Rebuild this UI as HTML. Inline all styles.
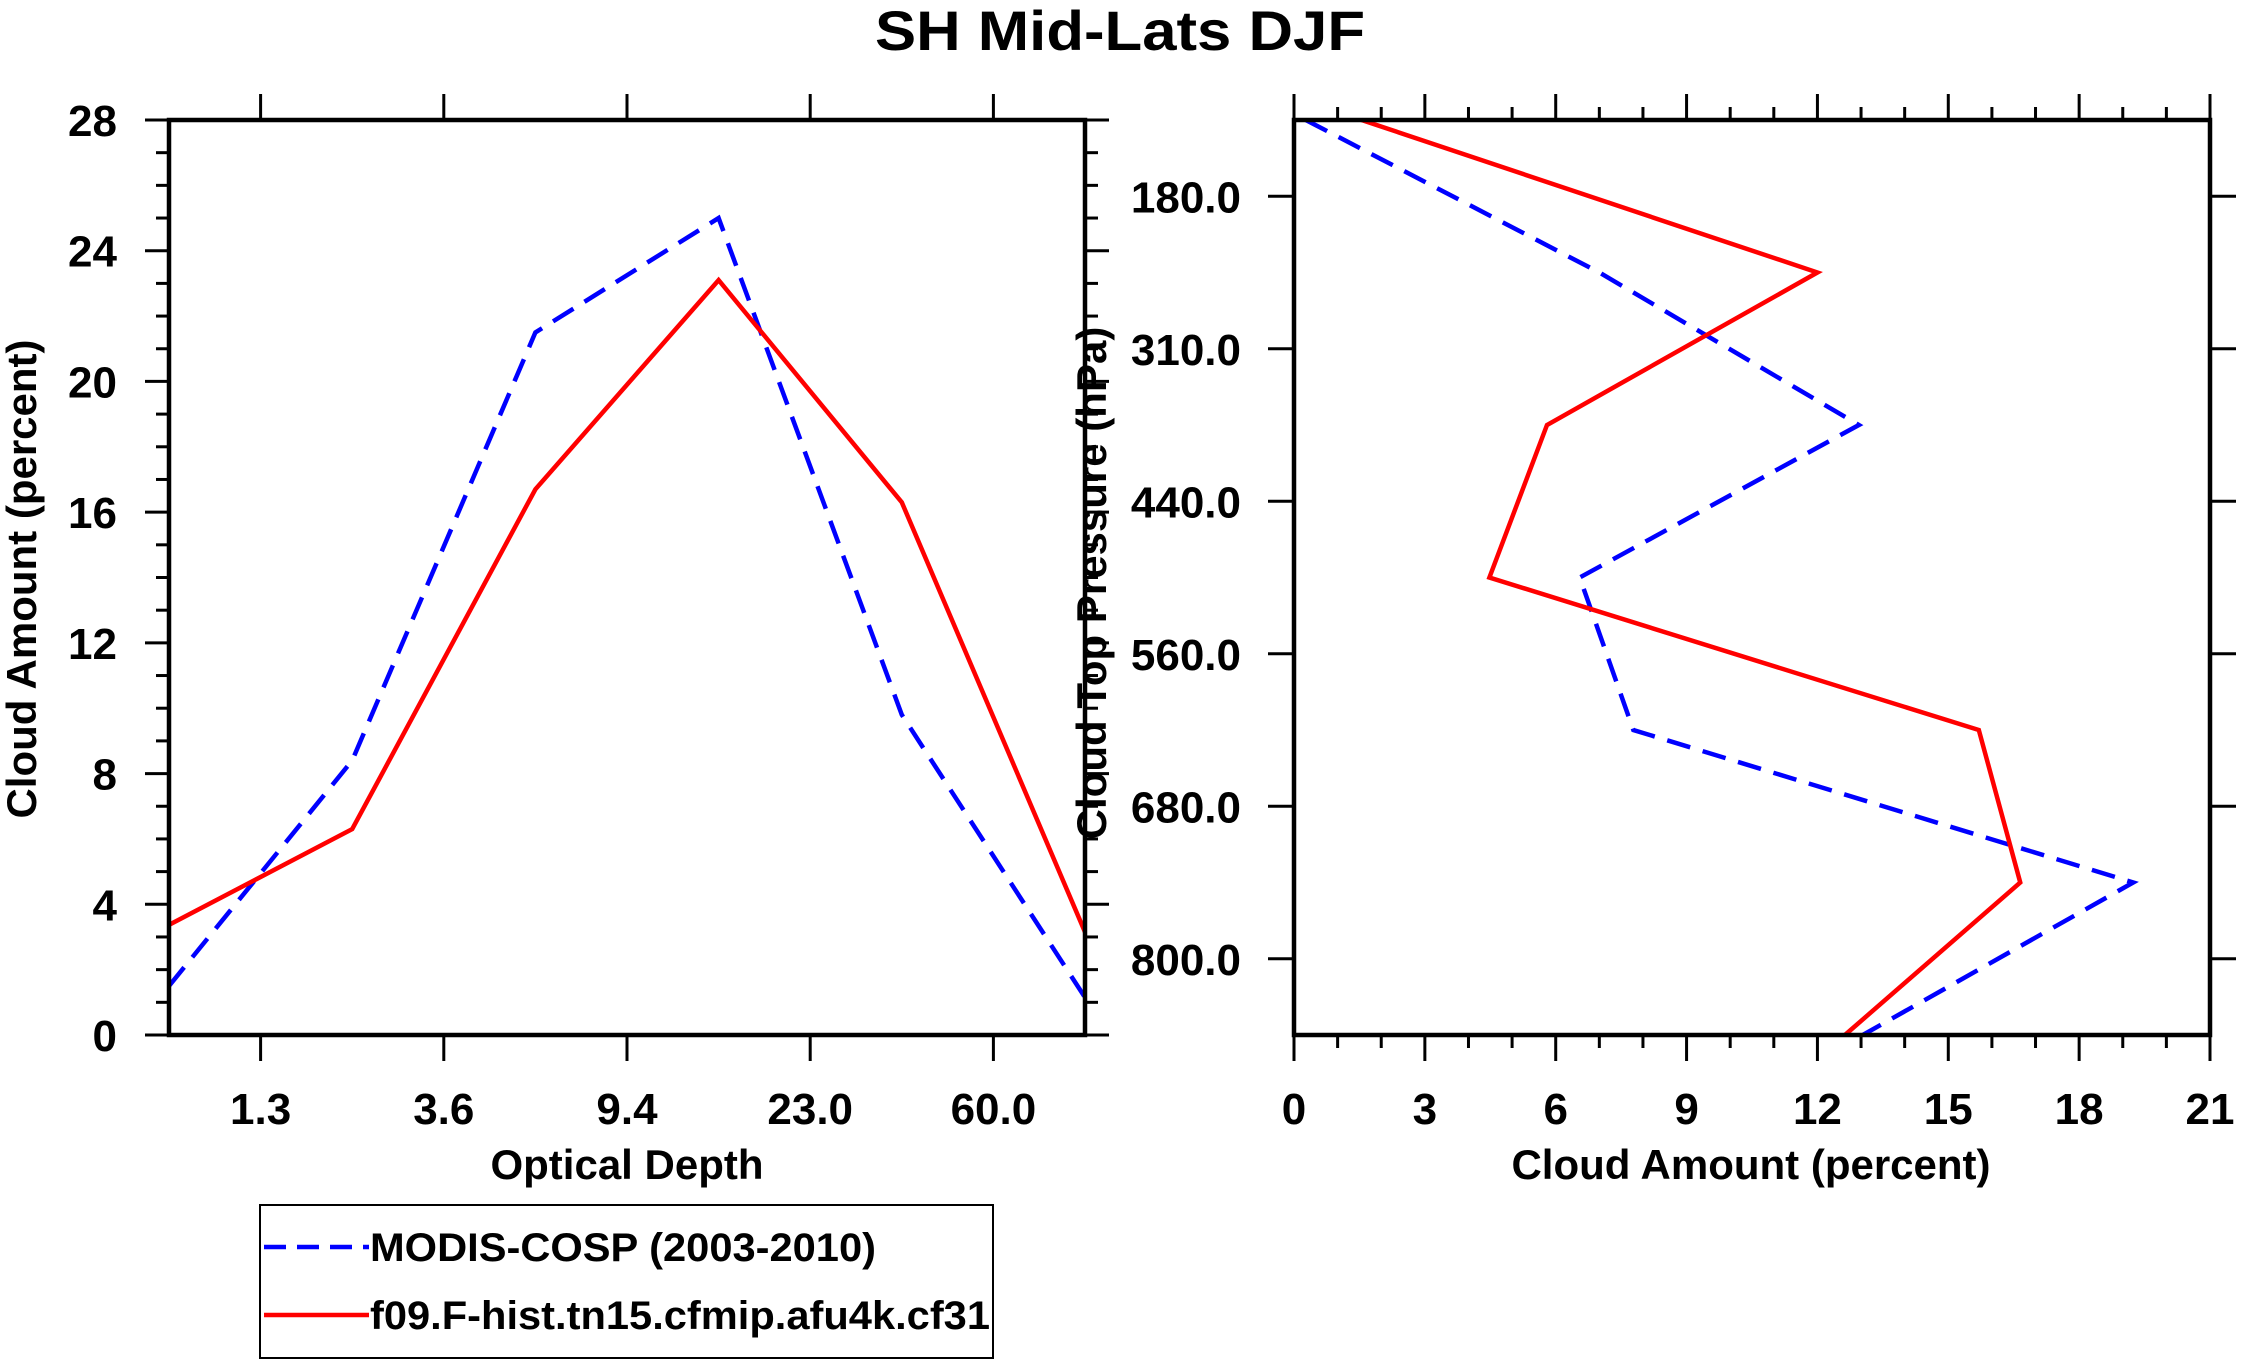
<!DOCTYPE html>
<html><head><meta charset="utf-8"><style>
html,body{margin:0;padding:0;background:#fff;}
svg{display:block;font-family:"Liberation Sans",sans-serif;font-weight:bold;}
</style></head><body>
<svg id="chart" width="2241" height="1365" viewBox="0 0 2241 1365" xmlns="http://www.w3.org/2000/svg">
<rect width="2241" height="1365" fill="#fff"/>
<text x="1120" y="50" text-anchor="middle" font-size="56" textLength="490" lengthAdjust="spacingAndGlyphs">SH Mid-Lats DJF</text>
<g id="left"></g>
<g id="right"></g>
<g id="legend">
<rect x="260" y="1205" width="733" height="153" fill="none" stroke="#000" stroke-width="2"/>
<line x1="264" y1="1247" x2="369" y2="1247" stroke="#0000ff" stroke-width="4.5" stroke-dasharray="22,11"/>
<text x="370" y="1261" font-size="40" textLength="506" lengthAdjust="spacingAndGlyphs">MODIS-COSP (2003-2010)</text>
<line x1="264" y1="1315" x2="369" y2="1315" stroke="#ff0000" stroke-width="4.5"/>
<text x="370" y="1329" font-size="40" textLength="620" lengthAdjust="spacingAndGlyphs">f09.F-hist.tn15.cfmip.afu4k.cf31</text>
</g>
</svg>
<script>
// Left panel data
const odLabels = ["1.3","3.6","9.4","23.0","60.0"];
const leftYTicks = [0,4,8,12,16,20,24,28];
const modisOD = [1.5,8.4,21.5,25.0,9.8,1.15];
const modelOD = [3.37,6.3,16.7,23.1,16.3,3.15];
// Right panel data
const ctpLabels = ["180.0","310.0","440.0","560.0","680.0","800.0"];
const rightXTicks = [0,3,6,9,12,15,18,21];
const modisCTP = [0.27,7.0,12.95,6.55,7.78,19.24,13.04];
const modelCTP = [1.55,12.0,5.8,4.48,15.7,16.65,12.63];

const NS="http://www.w3.org/2000/svg";
function mk(parent,tag,attrs){const e=document.createElementNS(NS,tag);for(const k in attrs)e.setAttribute(k,attrs[k]);parent.appendChild(e);return e;}
const TF=44;

// ---------- Left ----------
const L={x0:169,x1:1085,y0:120,y1:1035};
const lg=document.getElementById('left');


const lx=i=>L.x0+i*(L.x1-L.x0)/(modisOD.length-1);
const ly=v=>L.y1-v*(L.y1-L.y0)/28;
for(let v=0;v<=28;v++){
  const len=(v%4===0)?24:13;
  const t=mk(lg,'line',{x1:L.x0-len,y1:ly(v),x2:L.x0,y2:ly(v),stroke:'#000','stroke-width':3});
  
  
  const t2=mk(lg,'line',{x1:L.x1,y1:ly(v),x2:L.x1+len,y2:ly(v),stroke:'#000','stroke-width':3});
  
  
}
leftYTicks.forEach(v=>{
  const t=mk(lg,'text',{x:117,y:ly(v)+16,'text-anchor':'end','font-size':TF});
  t.textContent=v;
  
  
});
odLabels.forEach((s,i)=>{
  const x=lx(i+0.5);
  const a=mk(lg,'line',{x1:x,y1:L.y1,x2:x,y2:L.y1+26,stroke:'#000','stroke-width':3});
  
  
  const b=mk(lg,'line',{x1:x,y1:L.y0-26,x2:x,y2:L.y0,stroke:'#000','stroke-width':3});
  
  
  const t=mk(lg,'text',{x:x,y:1124,'text-anchor':'middle','font-size':TF});
  t.textContent=s;
  
  
});
function series(g,xs,ys,color,dash,name){
  const p=mk(g,'polyline',{points:xs.map((x,i)=>x+','+ys[i]).join(' '),fill:'none',stroke:color,'stroke-width':4.5});
  if(dash)p.setAttribute('stroke-dasharray','24,13');
  
  
}
series(lg,modisOD.map((v,i)=>lx(i)),modisOD.map(ly),'#0000ff',true,'modis-line-optical-depth');
series(lg,modelOD.map((v,i)=>lx(i)),modelOD.map(ly),'#ff0000',false,'model-line-optical-depth');
const lf=mk(lg,'rect',{x:L.x0,y:L.y0,width:L.x1-L.x0,height:L.y1-L.y0,fill:'none',stroke:'#000','stroke-width':4.5});


let tt=mk(lg,'text',{x:627,y:1179,'text-anchor':'middle','font-size':42});
tt.textContent='Optical Depth';


tt=mk(lg,'text',{x:0,y:0,'text-anchor':'middle','font-size':42,transform:'translate(36,579) rotate(-90)'});
tt.textContent='Cloud Amount (percent)';



// ---------- Right ----------
const R={x0:1294,x1:2210,y0:120,y1:1035};
const rg=document.getElementById('right');


const rx=v=>R.x0+v*(R.x1-R.x0)/21;
const ry=i=>R.y0+i*(R.y1-R.y0)/(modisCTP.length-1);
for(let v=0;v<=21;v++){
  const len=(v%3===0)?26:13;
  const a=mk(rg,'line',{x1:rx(v),y1:R.y1,x2:rx(v),y2:R.y1+len,stroke:'#000','stroke-width':3});
  
  
  const b=mk(rg,'line',{x1:rx(v),y1:R.y0-len,x2:rx(v),y2:R.y0,stroke:'#000','stroke-width':3});
  
  
}
rightXTicks.forEach(v=>{
  const t=mk(rg,'text',{x:rx(v),y:1124,'text-anchor':'middle','font-size':TF});
  t.textContent=v;
  
  
});
ctpLabels.forEach((s,i)=>{
  const y=ry(i+0.5);
  const a=mk(rg,'line',{x1:R.x0-26,y1:y,x2:R.x0,y2:y,stroke:'#000','stroke-width':3});
  
  
  const b=mk(rg,'line',{x1:R.x1,y1:y,x2:R.x1+26,y2:y,stroke:'#000','stroke-width':3});
  
  
  const t=mk(rg,'text',{x:1241,y:y+16,'text-anchor':'end','font-size':TF});
  t.textContent=s;
  
  
});
series(rg,modisCTP.map(rx),modisCTP.map((v,i)=>ry(i)),'#0000ff',true,'modis-line-pressure');
series(rg,modelCTP.map(rx),modelCTP.map((v,i)=>ry(i)),'#ff0000',false,'model-line-pressure');
const rf=mk(rg,'rect',{x:R.x0,y:R.y0,width:R.x1-R.x0,height:R.y1-R.y0,fill:'none',stroke:'#000','stroke-width':4.5});


tt=mk(rg,'text',{x:1751,y:1179,'text-anchor':'middle','font-size':42});
tt.textContent='Cloud Amount (percent)';


tt=mk(rg,'text',{x:0,y:0,'text-anchor':'middle','font-size':42,transform:'translate(1106,583) rotate(-90)'});
tt.textContent='Cloud Top Pressure (hPa)';


</script>
</body></html>
